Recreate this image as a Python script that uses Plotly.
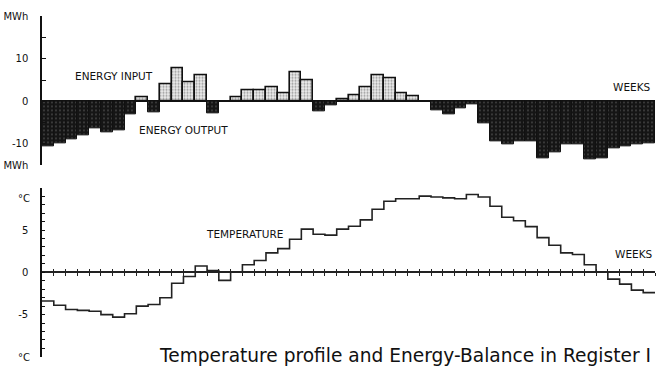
import plotly.graph_objects as go

W, H = 658, 370

# Weekly data for the register: net energy exchange and mean temperature
weeks = list(range(1, 53))
energy_mwh = [
    -10.6, -10.0, -9.0, -8.1, -6.3, -7.4, -6.9, -3.0, 1.0, -2.6,
    3.9, 7.7, 4.5, 6.1, -2.8, 0.0, 1.0, 2.6, 2.5, 3.2,
    2.0, 6.8, 4.9, -2.3, -0.9, 0.5, 1.5, 3.3, 6.1, 5.5,
    1.9, 1.1, 0.0, -2.0, -3.1, -1.7, -0.7, -5.2, -9.3, -10.1,
    -9.3, -9.3, -13.3, -12.0, -10.1, -10.2, -13.7, -13.3, -11.0, -10.7,
    -10.1, -10.0,
]
temperature_c = [
    -3.4, -3.9, -4.4, -4.5, -4.6, -5.0, -5.3, -4.9, -4.0, -3.8,
    -3.0, -1.3, -0.5, 0.75, 0.2, -0.95, 0.0, 0.9, 1.4, 2.3,
    2.8, 3.9, 5.1, 4.5, 4.4, 5.1, 5.45, 6.2, 7.45, 8.4,
    8.7, 8.7, 9.0, 8.9, 8.8, 8.7, 9.2, 8.9, 7.8, 6.5,
    6.1, 5.4, 4.1, 3.2, 2.3, 2.1, 0.9, 0.0, -0.8, -1.4,
    -2.1, -2.4,
]

energy_tickvals = [-15, -10, -5, 0, 5, 10, 15, 20]
energy_ticktext = ["MWh", "-10", "", "0", "", "10", "", "MWh"]
temp_tickvals = list(range(-10, 11))
temp_ticktext = [str(v) if v in (-5, 0, 5) else "" for v in temp_tickvals]

FONT = "DejaVu Sans"


def px(x):
    return x / W


def py(y):
    return 1 - y / H


x_dom = [px(42), px(655)]
e_dom = [py(165), py(11.7)]
t_dom = [py(362.7), py(188.3)]
t_range = [-10, 10]
t_zero = t_dom[0] + (0 - t_range[0]) / (t_range[1] - t_range[0]) * (t_dom[1] - t_dom[0])

centers = [w - 0.5 for w in weeks]
inputs = [v if v > 0 else None for v in energy_mwh]
outputs = [v if v < 0 else None for v in energy_mwh]

fig = go.Figure()

# Energy output (below zero): dark stippled bars
fig.add_trace(go.Bar(
    x=centers, y=outputs, width=1, xaxis="x", yaxis="y",
    marker=dict(
        color="#151515",
        line=dict(color="#111", width=1),
        pattern=dict(shape=".", fgcolor="#9a9a9a", bgcolor="#151515",
                     size=4, solidity=0.15),
    ),
    hoverinfo="skip",
))

# Energy input (above zero): light stippled bars with outline
fig.add_trace(go.Bar(
    x=centers, y=inputs, width=1, xaxis="x", yaxis="y",
    marker=dict(
        color="#e4e4e4",
        line=dict(color="#111", width=1.6),
        pattern=dict(shape=".", fgcolor="#444", bgcolor="#eeeeee",
                     size=3, solidity=0.4),
    ),
    hoverinfo="skip",
))

# Weekly temperature as a step line
fig.add_trace(go.Scatter(
    x=[w - 1 for w in weeks] + [weeks[-1]],
    y=temperature_c + [temperature_c[-1]],
    mode="lines", line=dict(color="#222", width=1.6, shape="hv"),
    xaxis="x2", yaxis="y2", hoverinfo="skip",
))

axis_font = dict(family=FONT, size=10, color="#111")

fig.update_layout(
    width=W, height=H,
    margin=dict(l=0, r=0, t=0, b=0),
    paper_bgcolor="white", plot_bgcolor="white",
    showlegend=False, barmode="overlay", bargap=0,
    xaxis=dict(domain=x_dom, range=[0, 52], anchor="y", visible=False,
               showgrid=False),
    yaxis=dict(domain=e_dom, range=[-15, 20], anchor="x",
               showline=True, linecolor="#111", linewidth=1.5,
               ticks="inside", ticklen=4, tickwidth=1.2, tickcolor="#111",
               tickvals=energy_tickvals, ticktext=energy_ticktext,
               ticklabelstandoff=10, tickfont=axis_font,
               showgrid=False, zeroline=True, zerolinecolor="#111",
               zerolinewidth=1.5),
    xaxis2=dict(domain=x_dom, range=[0, 52], anchor="free", position=t_zero,
                showline=True, linecolor="#222", linewidth=1.5,
                ticks="outside", ticklen=3, tickwidth=1.2, tickcolor="#222",
                tickvals=weeks, showticklabels=False, showgrid=False,
                zeroline=False),
    xaxis3=dict(domain=x_dom, range=[0, 52], anchor="free", position=t_zero,
                overlaying="x2", showline=False,
                ticks="inside", ticklen=3, tickwidth=1.2, tickcolor="#222",
                tickvals=weeks, showticklabels=False, showgrid=False,
                zeroline=False),
    yaxis2=dict(domain=t_dom, range=t_range, anchor="x2",
                showline=True, linecolor="#111", linewidth=1.5,
                ticks="inside", ticklen=3, tickwidth=1.2, tickcolor="#111",
                tickvals=temp_tickvals, ticktext=temp_ticktext,
                ticklabelstandoff=10, tickfont=axis_font,
                showgrid=False, zeroline=False),
)

# empty trace so the upward week-tick axis is drawn
fig.add_trace(go.Scatter(x=[None], y=[None], xaxis="x3", yaxis="y2",
                         showlegend=False, hoverinfo="skip"))

label_font = dict(family=FONT, size=10.5, color="#111")


def label(text, x, y, xanchor="center", font=label_font):
    fig.add_annotation(text=text, x=px(x), y=py(y), xref="paper", yref="paper",
                       xanchor=xanchor, yanchor="middle", showarrow=False,
                       font=font)


label("ENERGY INPUT", 114, 73)
label("ENERGY OUTPUT", 183, 129)
label("WEEKS", 653, 84, xanchor="right")
label("TEMPERATURE", 285, 236, xanchor="right")
label("WEEKS", 655, 257, xanchor="right")
label("°C", 32, 199, xanchor="right", font=axis_font)
label("°C", 32, 363, xanchor="right", font=axis_font)
label("Temperature profile and Energy-Balance in Register I", 157, 361,
      xanchor="left", font=dict(family=FONT, size=18.6, color="#111"))

fig.write_html("out.html")
